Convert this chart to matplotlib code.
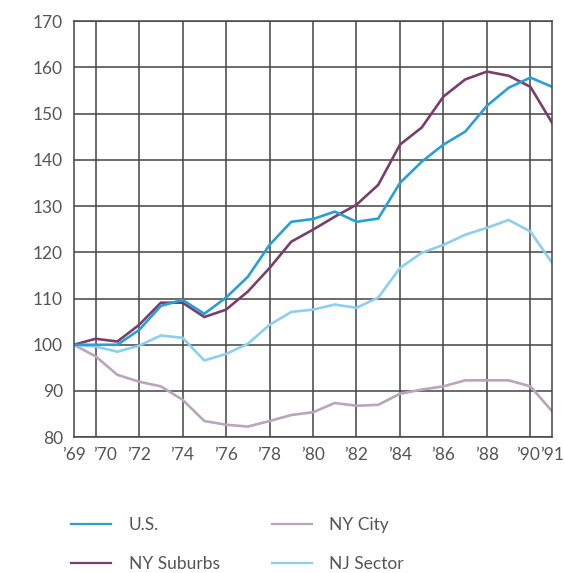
import matplotlib
matplotlib.use("Agg")
import matplotlib.pyplot as plt
from matplotlib.lines import Line2D

plt.rcParams['font.family'] = ['Lato', 'DejaVu Sans']

years = list(range(1969, 1992))

us = [100, 100, 100, 103.2, 108.4, 109.7, 106.7, 110.2, 114.7, 121.6, 126.6,
      127.2, 128.8, 126.6, 127.3, 135.0, 139.6, 143.3, 146.1, 151.7, 155.6,
      157.8, 155.8]
ny_suburbs = [100, 101.3, 100.7, 104.3, 109.1, 109.1, 106.0, 107.6, 111.5,
              116.6, 122.3, 124.9, 127.7, 130.3, 134.6, 143.3, 147.0, 153.7,
              157.4, 159.1, 158.2, 155.8, 148.0]
ny_city = [100, 97.5, 93.5, 92.0, 91.0, 88.1, 83.5, 82.7, 82.3, 83.5, 84.8,
           85.4, 87.4, 86.8, 87.0, 89.4, 90.3, 91.0, 92.3, 92.3, 92.3, 91.0,
           85.6]
nj_sector = [100, 99.6, 98.5, 99.8, 102.0, 101.5, 96.6, 98.0, 100.2, 104.3,
             107.1, 107.6, 108.7, 108.0, 110.2, 116.6, 119.9, 121.6, 123.8,
             125.3, 127.0, 124.5, 117.7]

series = [("U.S.", us, "#2a9fd6"),
          ("NY Suburbs", ny_suburbs, "#7a3d6c"),
          ("NY City", ny_city, "#baa5bb"),
          ("NJ Sector", nj_sector, "#8ccfee")]

xtick_years = [1969, 1970, 1972, 1974, 1976, 1978, 1980, 1982, 1984, 1986,
               1988, 1990, 1991]
xtick_labels = ["\u2019" + str(y)[2:] for y in xtick_years]
# nudge the crowded labels at each end apart a little
xtick_pos = [y + {1970: 0.45, 1990: -0.12}.get(y, 0) for y in xtick_years]
yticks = list(range(80, 171, 10))

fig = plt.figure(figsize=(5.64, 5.73), dpi=100)
ax = fig.add_axes([0.131, 0.237, 0.848, 0.726])

# draw in back-to-front order
for name, vals, col in [series[2], series[3], series[1], series[0]]:
    ax.plot(years, vals, color=col, lw=1.9, solid_joinstyle='miter')

ax.set_xlim(1969, 1991)
ax.set_ylim(80, 170)
ax.set_yticks(yticks)
for gx in range(1970, 1991, 2):
    ax.axvline(gx, color="#444444", lw=1.1, zorder=0)
for gy in yticks:
    ax.axhline(gy, color="#444444", lw=1.1, zorder=0)
ax.set_xticks(xtick_pos)
ax.set_xticklabels(xtick_labels)
for s in ax.spines.values():
    s.set_color("#444444")
    s.set_linewidth(1.1)
ax.tick_params(which='both', length=0, labelsize=12.5, colors="#555555")
ax.tick_params(axis='y', pad=8)
ax.tick_params(axis='x', pad=7)

handles = [Line2D([], [], color=c, lw=1.6) for _, _, c in series]
labels = [n for n, _, _ in series]
fig.legend(handles, labels, ncol=2, frameon=False, loc='upper left',
           bbox_to_anchor=(0.099, 0.125), fontsize=12.5, labelcolor="#555555",
           handlelength=2.3, handletextpad=1.0, columnspacing=3.0,
           labelspacing=1.35)

fig.savefig("out.png", dpi=100)
